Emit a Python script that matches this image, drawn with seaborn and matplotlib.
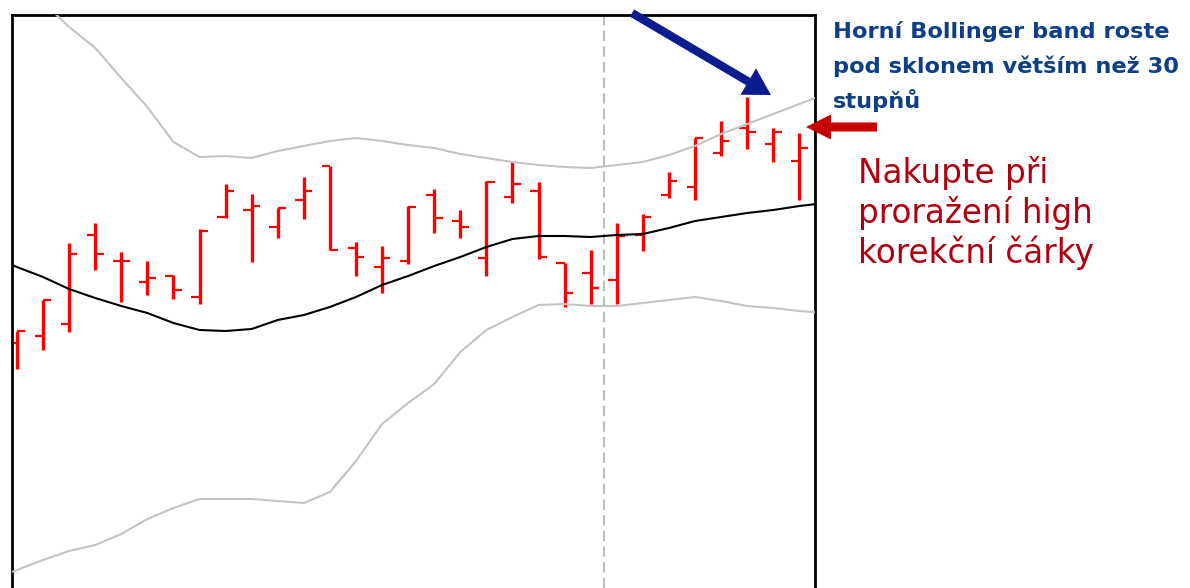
import numpy as np
import pandas as pd
import matplotlib
matplotlib.use("Agg")
import matplotlib.pyplot as plt
import seaborn as sns

# OHLC bars (price units)
opens = [245, 252, 264, 353, 327, 306, 312, 291, 371, 378, 361, 388, 422, 340, 321, 327,
         393, 367, 330, 391, 397, 325, 315, 308, 353, 393, 401, 435, 460, 444, 427]
highs = [257, 288, 345, 365, 336, 327, 313, 359, 404, 394, 380, 411, 422, 346, 342, 382,
         399, 378, 407, 426, 406, 325, 338, 365, 374, 416, 450, 467, 491, 460, 455]
lows = [219, 238, 256, 318, 286, 293, 289, 284, 370, 326, 350, 369, 338, 312, 295, 324,
        355, 350, 312, 385, 329, 281, 284, 284, 337, 390, 388, 432, 439, 426, 388]
closes = [257, 288, 334, 334, 327, 310, 298, 357, 397, 382, 380, 397, 338, 331, 330, 381,
          370, 361, 406, 404, 331, 295, 300, 352, 371, 407, 450, 447, 456, 456, 440]

# Bollinger bands, one value per bar plus one before and one after the window
upper_band = [633, 609, 586, 561, 540, 510, 481, 446, 431, 432, 430, 437, 442, 447, 450, 447, 443,
              440, 434, 430, 426, 423, 421, 420, 423, 426, 433, 442, 454, 464, 474, 484, 494]
middle_band = [331, 321, 311, 299, 290, 282, 275, 265, 258, 257, 259, 268, 273, 281, 291, 303, 312,
               322, 331, 341, 349, 352, 352, 351, 353, 354, 360, 367, 371, 375, 378, 382, 385]
lower_band = [8, 18, 28, 37, 43, 54, 69, 80, 89, 89, 89, 87, 85, 96, 127, 164, 185,
              204, 236, 258, 271, 283, 284, 282, 282, 285, 288, 291, 287, 282, 280, 277, 275]

signal_bar = 22.5  # dashed marker between bars

blue_text = ["Horní Bollinger band roste", "pod sklonem větším než 30", "stupňů"]
red_text = ["Nakupte při", "proražení high", "korekční čárky"]

bars = pd.DataFrame({"open": opens, "high": highs, "low": lows, "close": closes})
bars["idx"] = np.arange(len(bars))
bands = pd.DataFrame({"idx": np.arange(-1, len(bars) + 1),
                      "upper": upper_band, "middle": middle_band, "lower": lower_band})

sns.set_style("white")
plt.rcParams["font.family"] = ["DejaVu Sans"]

W, H = 1190, 588
fig = plt.figure(figsize=(W / 100, H / 100), dpi=100)
ax = fig.add_axes([12 / W, 0, 803 / W, 573 / H])

sns.lineplot(data=bands, x="idx", y="upper", ax=ax, color="#c3c3c3", lw=1.5, zorder=3)
sns.lineplot(data=bands, x="idx", y="lower", ax=ax, color="#c3c3c3", lw=1.5, zorder=3)
sns.lineplot(data=bands, x="idx", y="middle", ax=ax, color="black", lw=1.5, zorder=4)

ax.vlines(bars["idx"], bars["low"], bars["high"], color="#ff0000", lw=2.4, zorder=2)
ax.hlines(bars["open"], bars["idx"] - 0.32, bars["idx"], color="#ff0000", lw=1.6, zorder=2)
ax.hlines(bars["close"], bars["idx"], bars["idx"] + 0.32, color="#ff0000", lw=1.6, zorder=2)

ax.axvline(signal_bar, color="#bdbdbd", lw=1.5, ls=(0, (5, 2.5)), zorder=1)

ax.set_xlim(-0.19, 30.6)
ax.set_ylim(0, 573)
ax.set_xticks([])
ax.set_yticks([])
ax.set_xlabel("")
ax.set_ylabel("")
for side in ["left", "top", "right"]:
    ax.spines[side].set_color("black")
    ax.spines[side].set_linewidth(2)
ax.spines["bottom"].set_visible(False)

# arrows in figure pixels
ax.annotate("", xy=(771, H - 95), xytext=(632, H - 13), xycoords="figure pixels",
            textcoords="figure pixels", annotation_clip=False,
            arrowprops=dict(facecolor="#0a1c8f", edgecolor="none", width=6,
                            headwidth=22, headlength=19, shrink=0))
ax.annotate("", xy=(806, H - 127), xytext=(877, H - 127), xycoords="figure pixels",
            textcoords="figure pixels", annotation_clip=False,
            arrowprops=dict(facecolor="#c80000", edgecolor="none", width=6.5,
                            headwidth=18, headlength=18, shrink=0))

for i, line in enumerate(blue_text):
    fig.text(833 / W, 1 - (38 + 35 * i) / H, line, color="#0d3f87", fontsize=16.2,
             fontweight="bold", va="baseline", ha="left")
for i, line in enumerate(red_text):
    fig.text(858 / W, 1 - (183 + 40 * i) / H, line, color="#b00010", fontsize=23.5,
             va="baseline", ha="left")

fig.savefig("out.png", dpi=100, facecolor="white")
